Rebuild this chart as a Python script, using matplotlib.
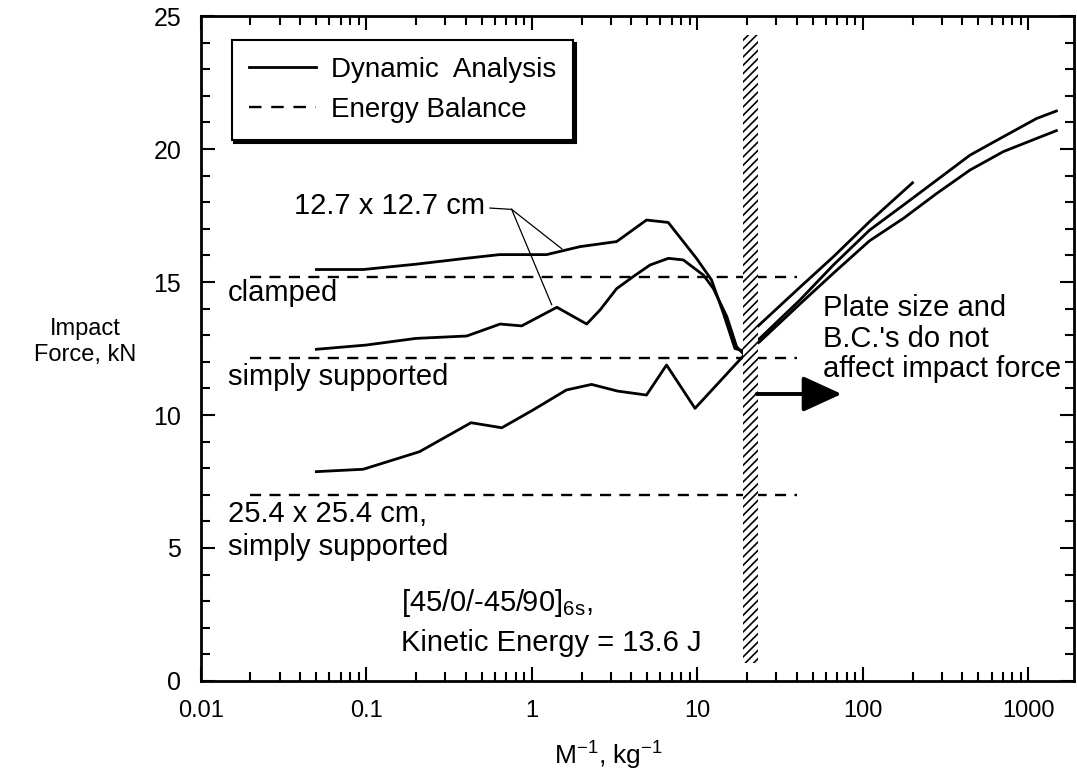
import numpy as np
import matplotlib
matplotlib.use("Agg")
import matplotlib.pyplot as plt
from matplotlib.lines import Line2D
from matplotlib.patches import Rectangle
from matplotlib.ticker import FixedLocator, FixedFormatter, LogLocator, NullFormatter, MultipleLocator

# dynamic analysis curves (M^-1 in kg^-1, impact force in kN)
x_clamped_127 = [0.05, 0.096, 0.2, 0.4, 0.64, 1.23, 1.96, 3.26, 4.94, 6.68, 9.9, 12.2, 14.4, 16.9, 18.6,
                 23.9, 41.7, 66.5, 110, 176, 280, 445, 706, 1125, 1480]
y_clamped_127 = [15.47, 15.47, 15.67, 15.89, 16.03, 16.03, 16.33, 16.52, 17.33, 17.24, 15.89, 15.08, 13.82, 12.5, 12.42,
                 12.88, 14.32, 15.64, 16.95, 17.89, 18.83, 19.77, 20.46, 21.15, 21.43]

x_ss_127 = [0.05, 0.1, 0.2, 0.405, 0.645, 0.87, 1.42, 2.15, 2.59, 3.26, 4.1, 5.19, 6.7, 8.24, 10.9, 12.5, 15.1, 17.3, 19.0,
            23.9, 41.7, 66.5, 110, 176, 280, 445, 706, 1125, 1480]
y_ss_127 = [12.47, 12.63, 12.88, 12.97, 13.42, 13.35, 14.05, 13.42, 13.95, 14.75, 15.2, 15.64, 15.89, 15.83, 15.26, 14.76, 13.7, 12.57, 12.3,
            12.76, 14.17, 15.33, 16.55, 17.39, 18.33, 19.21, 19.9, 20.4, 20.69]

x_ss_254 = [0.05, 0.096, 0.21, 0.43, 0.66, 1.02, 1.62, 2.3, 3.3, 4.94, 6.53, 9.7, 19.0,
            22.9, 41.7, 66.5, 110, 200]
y_ss_254 = [7.87, 7.96, 8.62, 9.71, 9.52, 10.19, 10.94, 11.15, 10.9, 10.75, 11.88, 10.25, 12.22,
            13.3, 14.8, 15.95, 17.27, 18.73]

# energy balance levels
energy_x = [0.02, 40]
energy_clamped = 15.2
energy_ss = 12.15
energy_ss_254 = 7.0

xtick_vals = [0.01, 0.1, 1, 10, 100, 1000]
xtick_labels = ['0.01', '0.1', '1', '10', '100', '1000']
ytick_vals = [0, 5, 10, 15, 20, 25]

plt.rcParams['font.family'] = ['Liberation Sans', 'DejaVu Sans']
plt.rcParams['mathtext.fontset'] = 'custom'
plt.rcParams['mathtext.rm'] = 'Liberation Sans'
plt.rcParams['lines.scale_dashes'] = False
plt.rcParams['hatch.linewidth'] = 1.2

fig = plt.figure(figsize=(10.77, 7.78), dpi=100)
ax = fig.add_axes([0.1863, 0.1247, 0.8109, 0.8547])

ax.set_xscale('log')
ax.set_xlim(0.01, 1890)
ax.set_ylim(0, 25)

lw = 2.0
ax.plot(x_clamped_127, y_clamped_127, color='black', lw=lw, zorder=2)
ax.plot(x_ss_127, y_ss_127, color='black', lw=lw, zorder=2)
ax.plot(x_ss_254, y_ss_254, color='black', lw=lw, zorder=2)

for lvl in [energy_clamped, energy_ss, energy_ss_254]:
    ax.plot(energy_x, [lvl, lvl], color='black', lw=1.7, dashes=(8, 6), zorder=2)

# hatched band where plate effects vanish
band = Rectangle((18.8, 0.68), 23.4 - 18.8, 24.3 - 0.68, facecolor='white',
                 edgecolor='black', hatch='////', lw=0, zorder=3)
ax.add_patch(band)

# leader lines for 12.7 x 12.7 cm
ax.plot([0.56, 0.757], [17.78, 17.73], color='black', lw=0.9, zorder=2)
ax.plot([0.757, 1.52], [17.73, 16.25], color='black', lw=0.9, zorder=2)
ax.plot([0.757, 1.32], [17.73, 14.15], color='black', lw=0.9, zorder=2)

fs = 21
ax.text(0.525, 17.84, '12.7 x 12.7 cm', fontsize=fs, ha='right', va='center')
ax.text(0.0146, 14.59, 'clamped', fontsize=fs, ha='left', va='center')
ax.text(0.0146, 11.44, 'simply supported', fontsize=fs, ha='left', va='center')
ax.text(0.0146, 6.8, '25.4 x 25.4 cm,\nsimply supported', fontsize=fs, ha='left', va='top',
        linespacing=1.2)
ax.text(0.162, 2.93, r'[45/0/-45/90]$_{\mathregular{6s}}$,', fontsize=fs, ha='left', va='center')
ax.text(0.162, 1.43, 'Kinetic Energy = 13.6 J', fontsize=fs, ha='left', va='center')
ax.text(57.6, 14.55, "Plate size and\nB.C.'s do not\naffect impact force", fontsize=fs,
        ha='left', va='top', linespacing=1.12)

ax.annotate('', xy=(74.6, 10.79), xytext=(22.9, 10.79),
            arrowprops=dict(arrowstyle='-|>,head_length=1.2,head_width=0.55', lw=2.8,
                            color='black', mutation_scale=20, shrinkA=0, shrinkB=0),
            zorder=4)

# legend
handles = [Line2D([], [], color='black', lw=2.0),
           Line2D([], [], color='black', lw=1.7, dashes=(9, 7))]
leg = ax.legend(handles, ['Dynamic  Analysis', 'Energy Balance'], loc='upper left',
                bbox_to_anchor=(0.0355, 0.964), borderaxespad=0, fontsize=20,
                frameon=True, fancybox=False, edgecolor='black', framealpha=1,
                shadow={'color': 'black', 'alpha': 1}, handlelength=2.41,
                handletextpad=0.54, labelspacing=0.5, borderpad=0.62)
leg.get_frame().set_linewidth(1.5)

# axes styling
for sp in ax.spines.values():
    sp.set_linewidth(2.0)
ax.xaxis.set_major_locator(FixedLocator(xtick_vals))
ax.xaxis.set_major_formatter(FixedFormatter(xtick_labels))
ax.xaxis.set_minor_locator(LogLocator(base=10, subs=np.arange(2, 10), numticks=20))
ax.xaxis.set_minor_formatter(NullFormatter())
ax.yaxis.set_major_locator(FixedLocator(ytick_vals))
ax.yaxis.set_minor_locator(MultipleLocator(1))
ax.tick_params(which='both', direction='in', top=True, right=True, width=1.5, pad=14)
ax.tick_params(which='major', length=10)
ax.tick_params(which='minor', length=6.5)
ax.tick_params(axis='x', labelsize=17)
ax.tick_params(axis='y', labelsize=18)

ax.set_xlabel(r'M$^{\mathregular{-1}}$, kg$^{\mathregular{-1}}$', fontsize=19, va='center')
ax.xaxis.set_label_coords(0.4675, -0.111)
ax.set_ylabel('Impact\nForce, kN', fontsize=17, rotation=0, ha='center', va='center')
ax.yaxis.set_label_coords(-0.1325, 0.51)

fig.savefig('out.png', dpi=100)
